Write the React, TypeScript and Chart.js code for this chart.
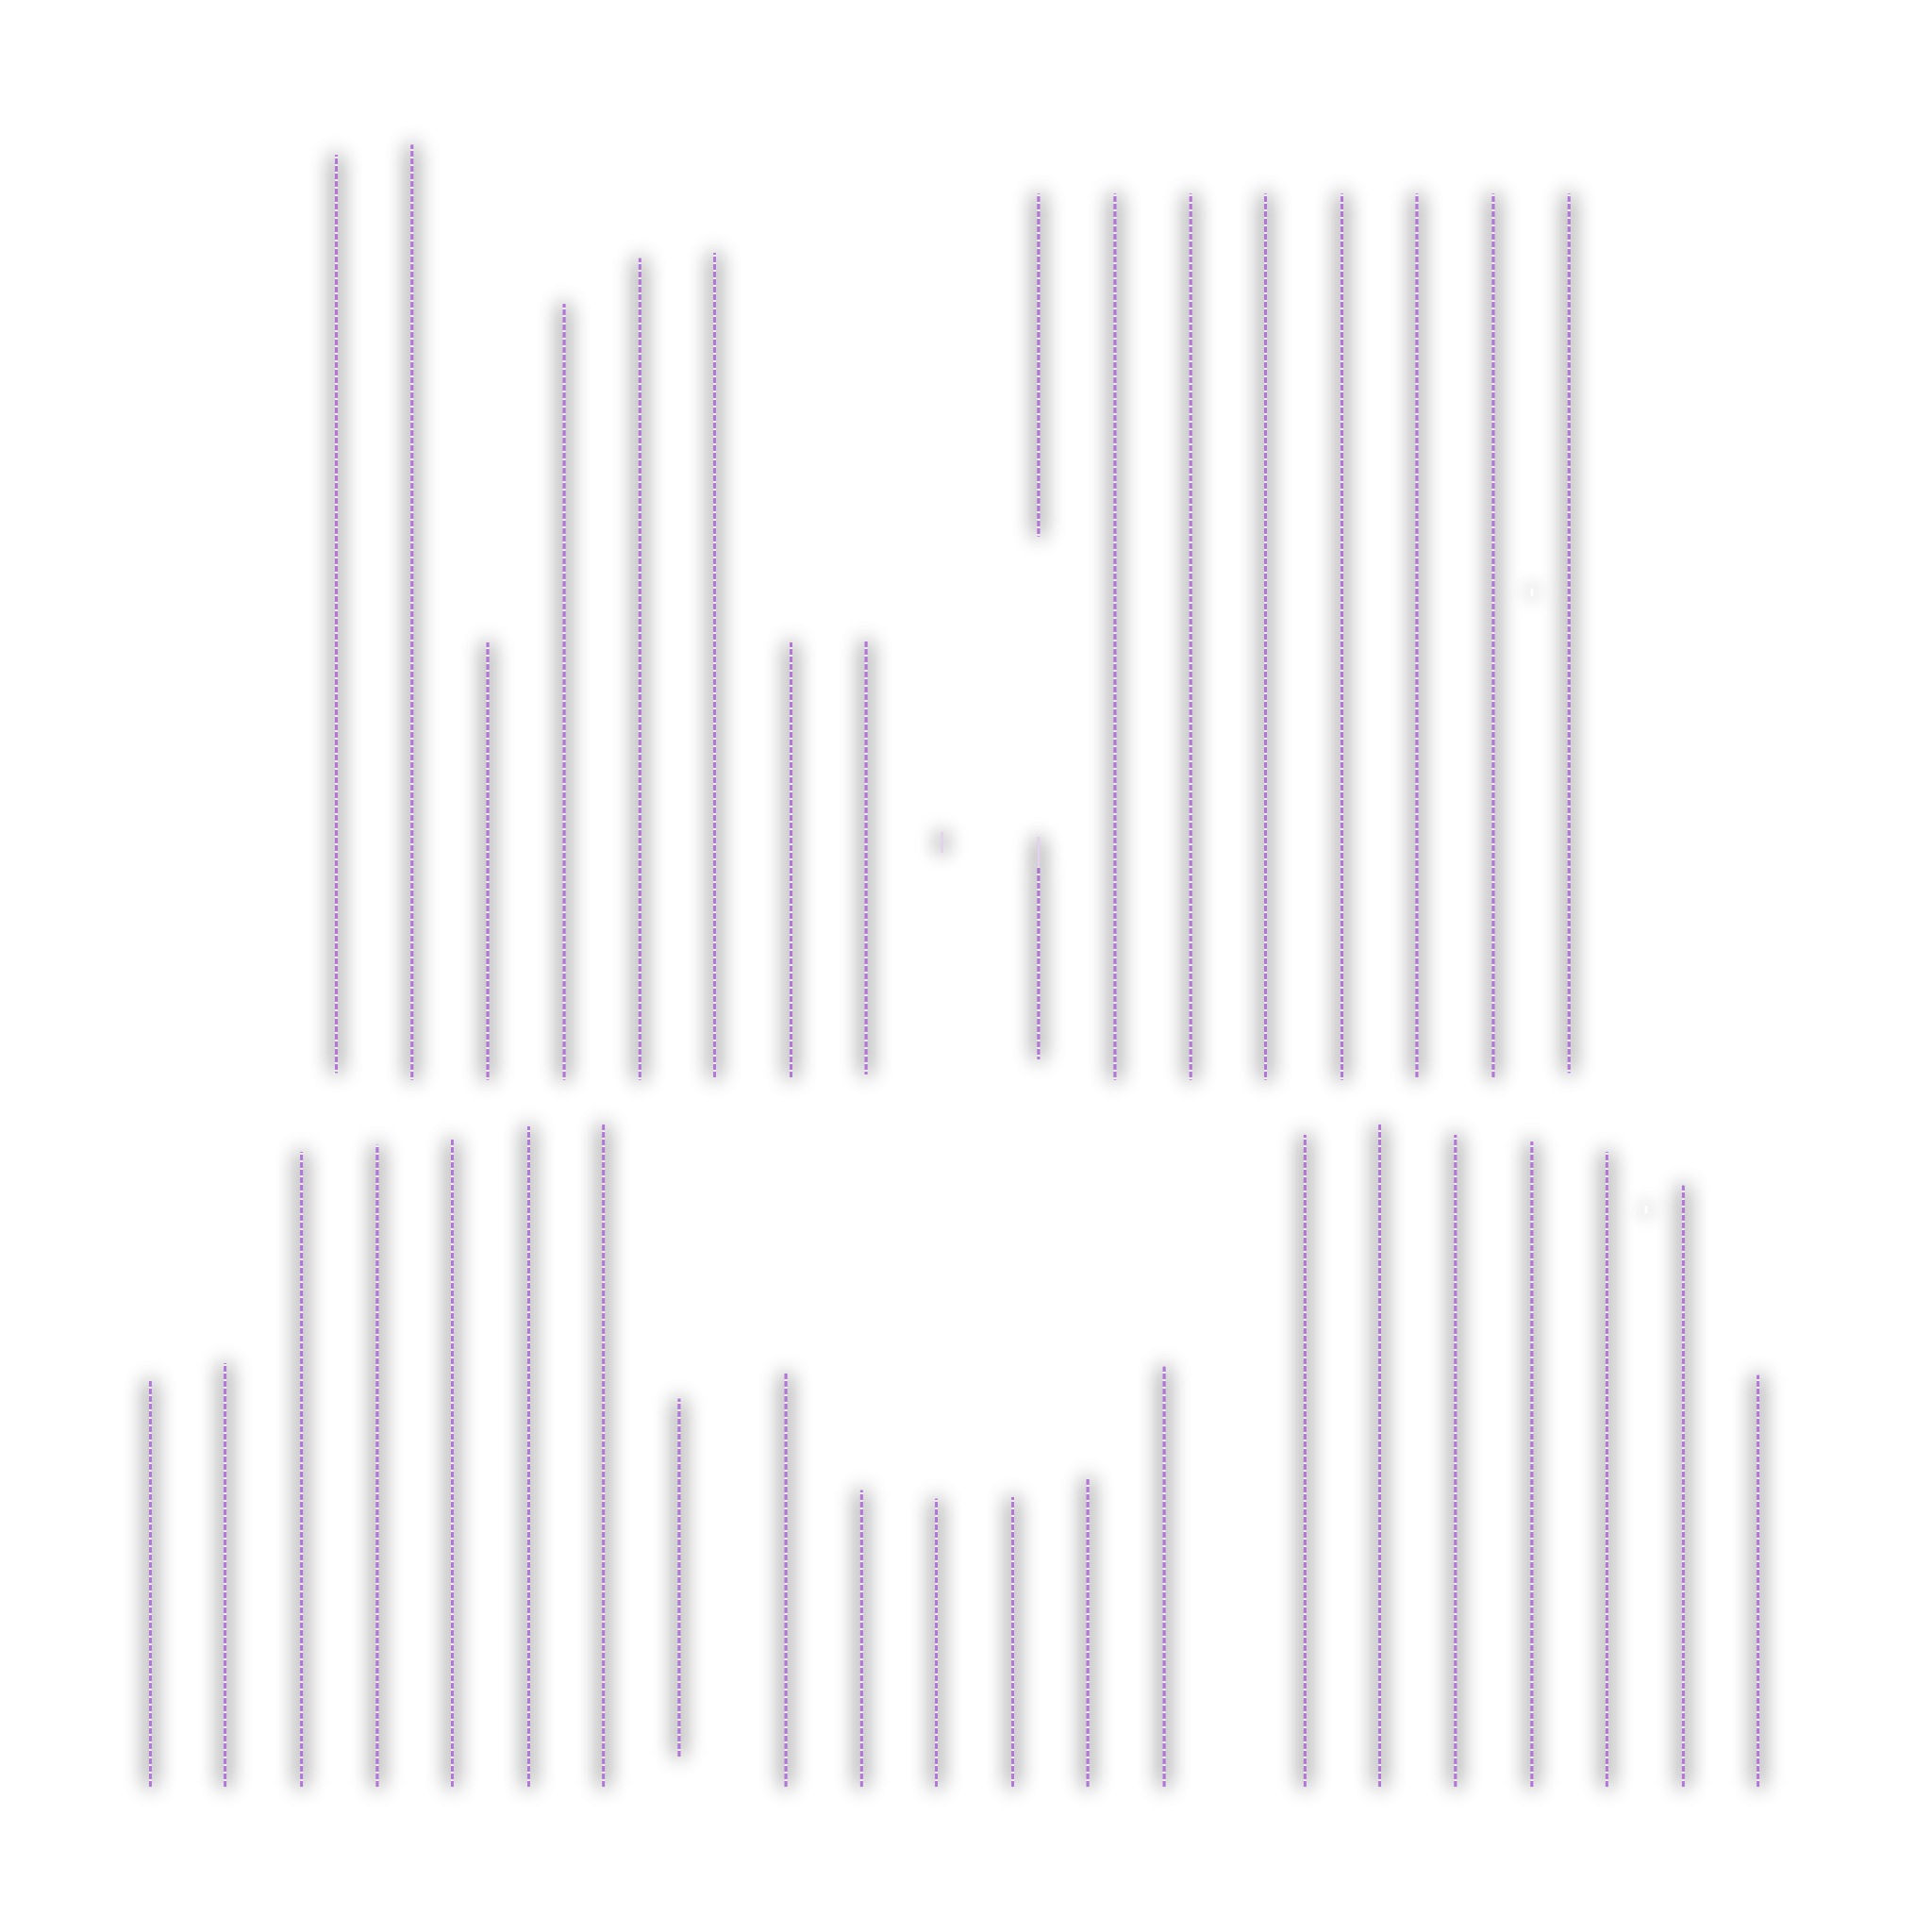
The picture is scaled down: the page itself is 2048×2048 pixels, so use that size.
import { useEffect, useRef } from "react"
import { Chart, registerables } from "chart.js"

Chart.register(...registerables)

// upper band: floating ranges
const upperPositions = [2.46, 3.46, 4.46, 5.47, 6.47, 7.46, 8.47, 9.46, 11.74, 11.74, 12.75, 13.75, 14.74, 15.75, 16.74, 17.75, 18.75]
const upperRanges: [number, number][] = [
  [42.2, 96.4], [41.8, 97.0], [41.8, 67.6], [41.8, 87.6], [41.8, 90.3], [41.9, 90.6],
  [41.9, 67.6], [42.1, 67.7],
  [73.9, 94.1], [43.0, 54.4],
  [41.8, 94.1], [41.8, 94.1], [41.8, 94.1], [41.8, 94.1], [41.9, 94.1], [41.9, 94.1], [42.2, 94.1],
]

// lower band: bars from the baseline
const lowerPositions = [0, 0.99, 2.0, 3.0, 3.99, 5.0, 5.99, 6.99, 8.4, 9.4, 10.39, 11.4, 12.39, 13.4, 15.26, 16.25, 17.25, 18.26, 19.25, 20.26, 21.25]
const lowerRanges: [number, number][] = [
  [0, 24.0], [0, 25.0], [0, 37.5], [0, 37.9], [0, 38.2], [0, 39.0], [0, 39.1], [1.8, 22.9],
  [0, 24.4], [0, 17.5], [0, 17.0], [0, 17.1], [0, 18.2], [0, 24.8],
  [0, 38.5], [0, 39.1], [0, 38.5], [0, 38.1], [0, 37.5], [0, 35.5], [0, 24.3],
]

// faint marks (almost empty ranges)
const faintPositions = [10.46, 11.74, 18.26, 19.77]
const faintRanges: [number, number][] = [
  [55.2, 56.4], [54.4, 56.1], [70.4, 70.8], [33.9, 34.3],
]
const faintColors = ["#e4d3ee", "#e4d3ee", "#ffffff", "#ffffff"]

// soft grey halo: bars are painted twice with a canvas shadow
const shadowPlugin = {
  id: "barShadow",
  beforeDatasetsDraw(chart: Chart) {
    const ctx = chart.ctx
    ctx.save()
    ctx.shadowColor = "rgba(0, 0, 0, 1)"
    ctx.shadowBlur = 22
  },
  afterDatasetsDraw(chart: Chart) {
    chart.data.datasets.forEach((_, i) => {
      const meta = chart.getDatasetMeta(i)
      if (meta.visible) meta.controller.draw()
    })
    chart.ctx.restore()
  },
}

export default function App() {
  const chartRef = useRef<HTMLCanvasElement | null>(null)
  const chartInstance = useRef<Chart | null>(null)

  useEffect(() => {
    if (!chartRef.current) return
    if (chartInstance.current) chartInstance.current.destroy()

    const ctx = chartRef.current.getContext("2d")
    if (!ctx) return

    // dashed purple fill
    const tile = document.createElement("canvas")
    tile.width = 4
    tile.height = 8
    const t = tile.getContext("2d")!
    t.fillStyle = "#f3ecf7"
    t.fillRect(0, 0, 4, 8)
    t.fillStyle = "#b276d6"
    t.fillRect(0, 0, 4, 6)
    const dash = ctx.createPattern(tile, "repeat") as CanvasPattern

    const common = { borderWidth: 0, barThickness: 2, grouped: false, clip: false }

    chartInstance.current = new Chart(ctx, {
      type: "bar",
      data: {
        datasets: [
          {
            label: "Upper",
            data: upperPositions.map((x, i) => ({ x, y: upperRanges[i] })),
            backgroundColor: dash,
            ...common,
          },
          {
            label: "Lower",
            data: lowerPositions.map((x, i) => ({ x, y: lowerRanges[i] })),
            backgroundColor: dash,
            ...common,
          },
          {
            label: "Faint",
            data: faintPositions.map((x, i) => ({ x, y: faintRanges[i] })),
            backgroundColor: faintColors,
            ...common,
          },
        ],
      } as any,
      options: {
        animation: false,
        responsive: true,
        maintainAspectRatio: false,
        layout: { padding: { left: 31, right: 24, top: 92, bottom: 114 } },
        plugins: {
          legend: { display: false },
          tooltip: { enabled: false },
        },
        scales: {
          x: { type: "linear", min: -1.5, max: 22.75, offset: false, display: false },
          y: { min: 0, max: 100, display: false },
        },
      },
      plugins: [shadowPlugin],
    })

    return () => {
      if (chartInstance.current) {
        chartInstance.current.destroy()
        chartInstance.current = null
      }
    }
  }, [])

  return (
    <div style={{ width: 2000, height: 2000 }}>
      <canvas ref={chartRef}></canvas>
    </div>
  )
}
